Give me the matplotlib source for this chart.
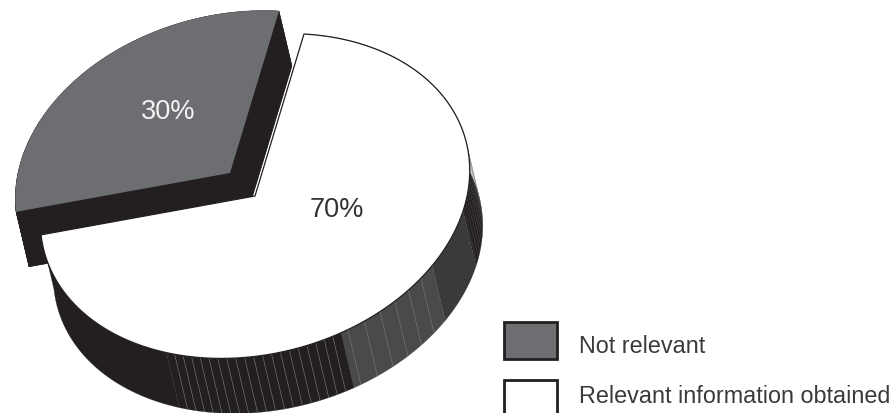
import numpy as np
import matplotlib
matplotlib.use("Agg")
import matplotlib.pyplot as plt
from matplotlib.patches import Rectangle

plt.rcParams['font.family'] = ['Liberation Sans', 'DejaVu Sans']

categories = ["Not relevant", "Relevant information obtained"]
shares = [30, 70]
labels = ["30%", "70%"]

GRAY = "#6d6e71"
INK = "#231f20"

# projected disc geometry (pixels, y downwards)
CENTER = np.array([255.0, 197.0])
EXPLODE = np.array([-25.0, -23.0])
DEPTH = np.array([13.0, 55.0])
SEMI_A, SEMI_B = 218.0, 158.0
TILT = np.radians(14.5)
START = -174.2
U = np.array([np.cos(TILT), -np.sin(TILT)])
V = np.array([np.sin(TILT), np.cos(TILT)])

# wall shading bands: (from angle, to angle, colour, hairline step, hairline style)
wall_bands = [
    (-66, 25, INK, 2.0, ":"),
    (25, 45, "#3a3a3b", 20.0, "-"),
    (45, 77, "#4a4a4b", 5.0, "-"),
    (77, 125, INK, 2.4, "-"),
    (125, 186, INK, 61.0, "-"),
]


def rim(t_deg, center):
    t = np.radians(np.asarray(t_deg, dtype=float))
    return center + SEMI_A * np.cos(t)[:, None] * U + SEMI_B * np.sin(t)[:, None] * V


def wedge(t0, t1, center):
    arc = rim(np.linspace(t0, t1, 160), center)
    return np.vstack([center, arc])


fig = plt.figure(figsize=(8.9, 4.14), dpi=100)
ax = fig.add_axes([0, 0, 1, 1])
ax.set_xlim(0, 890)
ax.set_ylim(414, 0)
ax.axis("off")

t_gray0 = START
t_gray1 = START + 360 * shares[0] / sum(shares)
t_white1 = t_gray1 + 360 * shares[1] / sum(shares)

# exploded grey slice: extruded body, then top
gray_center = CENTER + EXPLODE
gray_top = wedge(t_gray0, t_gray1, gray_center)
n = len(gray_top)
for i in range(n):
    a, b = gray_top[i], gray_top[(i + 1) % n]
    ax.fill(*np.array([a, b, b + DEPTH, a + DEPTH]).T, color=INK, lw=0.3, zorder=2)
ax.fill(*(gray_top + DEPTH).T, color=INK, lw=0, zorder=2)
ax.fill(*gray_top.T, color=GRAY, lw=0, zorder=5)

# wall of the large slice
for t_a, t_b, colour, step, style in wall_bands:
    ts = np.arange(t_a, t_b + 1e-6, 0.5)
    top = rim(ts, CENTER)
    ax.fill(*np.vstack([top, (top + DEPTH)[::-1]]).T, color=colour, lw=0.2, zorder=3)
    for t in np.arange(t_a + step, t_b - 1e-6, step):
        p = rim([t], CENTER)[0]
        ax.plot(*np.array([p, p + DEPTH]).T, color="#77787b", lw=0.45, ls=style, zorder=3.5)

# top of the large slice
white_top = wedge(t_gray1, t_white1, CENTER)
ax.fill(*white_top.T, facecolor="white", edgecolor=INK, lw=0.9, joinstyle="miter", zorder=4)

ax.text(*(CENTER + [-87, -85]), labels[0], color="#f4f4f4", fontsize=19.5, ha="center", va="center", zorder=6)
ax.text(*(CENTER + [82, 13]), labels[1], color="#333333", fontsize=19.5, ha="center", va="center", zorder=6)

# legend
for y, colour, name, text_y in zip([322.5, 380.5], [GRAY, "white"], categories, [346.5, 396.5]):
    ax.add_patch(Rectangle((504, y), 53, 37, facecolor=colour, edgecolor=INK, lw=2.0, zorder=6))
    ax.text(579, text_y, name, color="#3a3a3a", fontsize=16.8, ha="left", va="center", zorder=6)

fig.savefig("out.png", dpi=100)
